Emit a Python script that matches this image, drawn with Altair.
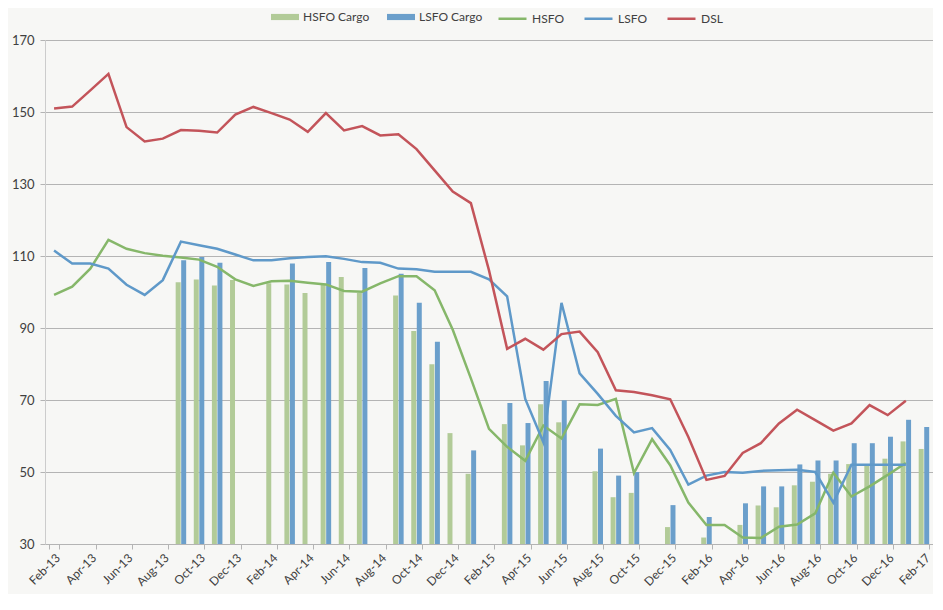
import altair as alt
import pandas as pd

months = ["Feb-13", "Mar-13", "Apr-13", "May-13", "Jun-13", "Jul-13", "Aug-13", "Sep-13",
          "Oct-13", "Nov-13", "Dec-13", "Jan-14", "Feb-14", "Mar-14", "Apr-14", "May-14",
          "Jun-14", "Jul-14", "Aug-14", "Sep-14", "Oct-14", "Nov-14", "Dec-14", "Jan-15",
          "Feb-15", "Mar-15", "Apr-15", "May-15", "Jun-15", "Jul-15", "Aug-15", "Sep-15",
          "Oct-15", "Nov-15", "Dec-15", "Jan-16", "Feb-16", "Mar-16", "Apr-16", "May-16",
          "Jun-16", "Jul-16", "Aug-16", "Sep-16", "Oct-16", "Nov-16", "Dec-16", "Jan-17",
          "Feb-17"]

hsfo = [99.2, 101.5, 106.5, 114.5, 112.0, 110.8, 110.1, 109.6, 109.0, 107.0, 103.5, 101.7,
        103.0, 103.1, 102.6, 102.1, 100.3, 100.1, 102.4, 104.4, 104.4, 100.5, 89.5, 76.0,
        62.0, 57.0, 53.1, 62.9, 59.3, 68.8, 68.6, 70.3, 49.7, 59.1, 51.9, 41.5,
        35.3, 35.3, 31.8, 31.7, 34.8, 35.4, 38.5, 49.8, 43.2, 46.0, 49.2, 52.5, None]

lsfo = [111.5, 107.9, 107.9, 106.5, 102.0, 99.2, 103.3, 114.0, 113.0, 112.0, 110.4, 108.8,
        108.8, 109.4, 109.7, 109.9, 109.2, 108.3, 108.1, 106.5, 106.3, 105.6, 105.6, 105.6,
        103.5, 98.8, 70.3, 58.3, 97.0, 77.4, 71.7, 65.6, 61.0, 62.2, 56.1, 46.5,
        49.0, 50.0, 49.8, 50.3, 50.5, 50.6, 50.0, 41.5, 52.0, 52.0, 52.0, 52.0, None]

dsl = [151.0, 151.5, 156.0, 160.6, 145.8, 141.8, 142.6, 145.0, 144.8, 144.3, 149.3, 151.4,
       149.7, 147.9, 144.5, 149.7, 144.9, 146.1, 143.5, 143.8, 139.7, 133.8, 127.9, 124.7,
       106.0, 84.2, 87.0, 84.0, 88.3, 89.0, 83.3, 72.7, 72.2, 71.3, 70.2, 59.7,
       47.8, 48.9, 55.3, 58.0, 63.5, 67.3, 64.4, 61.5, 63.5, 68.6, 65.8, 69.8, None]

hsfo_cargo = [None, None, None, None, None, None, None, 102.7, 103.5, 101.8, 103.3, None,
              102.4, 102.1, 99.7, 102.0, 104.2, 99.7, None, 99.0, 89.2, 79.9, 60.8, 49.5,
              None, 63.3, 57.4, 68.8, 63.8, None, 50.2, 43.0, 44.2, None, 34.7, None,
              31.8, None, 35.3, 40.7, 40.2, 46.3, 47.3, 49.5, 52.2, 51.8, 53.7, 58.5, 56.4]

lsfo_cargo = [None, None, None, None, None, None, None, 108.8, 109.7, 108.1, None, None,
              None, 107.9, None, 108.3, None, 106.7, None, 105.1, 97.0, 86.2, None, 56.0,
              None, 69.2, 63.6, 75.3, 69.9, None, 56.5, 49.0, 50.0, None, 40.8, None,
              37.5, None, 41.3, 46.0, 46.0, 52.1, 53.2, 53.2, 58.0, 58.0, 59.8, 64.5, 62.5]

bar_series = ["HSFO Cargo", "LSFO Cargo"]
bar_colors = ["#b2cb98", "#6b9fcb"]
line_series = ["HSFO", "LSFO", "DSL"]
line_colors = ["#86b76a", "#5f99c9", "#c3545a"]
y_ticks = [30, 50, 70, 90, 110, 130, 150, 170]

bar_rows = []
for name, vals in zip(bar_series, [hsfo_cargo, lsfo_cargo]):
    for i, v in enumerate(vals):
        if v is not None:
            bar_rows.append({"month": months[i], "idx": i, "series": name, "value": v})
bars_df = pd.DataFrame(bar_rows)

line_rows = []
for name, vals in zip(line_series, [hsfo, lsfo, dsl]):
    for i, v in enumerate(vals):
        if v is not None:
            line_rows.append({"month": months[i], "idx": i, "series": name, "value": v})
lines_df = pd.DataFrame(line_rows)

FONT = "Lato"
TXT = "#404040"
GRID = "#b4b4b4"

x_scale = alt.Scale(domain=months, paddingInner=0.42, paddingOuter=0.21)
x_axis = alt.Axis(values=months[::2], labelAngle=-45, tickBand="extent", title=None,
                  grid=False, domainColor=GRID, domainWidth=1.2, tickColor=GRID,
                  tickSize=5, labelFont=FONT, labelFontSize=12, labelColor=TXT,
                  labelPadding=3)
y_scale = alt.Scale(domain=[30, 170], zero=False, nice=False)
y_axis = alt.Axis(values=y_ticks, title=None, grid=True, gridColor=GRID, gridWidth=1.2,
                  domainColor="#cccccc", tickColor=GRID, tickSize=5, labelFont=FONT,
                  labelFontSize=13, labelColor=TXT, labelPadding=6)

bars = alt.Chart(bars_df).mark_bar().encode(
    x=alt.X("month:N", scale=x_scale, axis=x_axis, sort=months),
    xOffset=alt.XOffset("series:N", scale=alt.Scale(domain=bar_series, paddingInner=0.1)),
    y=alt.Y("value:Q", scale=y_scale, axis=y_axis),
    y2=alt.datum(30),
    fill=alt.Fill("series:N", scale=alt.Scale(domain=bar_series, range=bar_colors),
                  legend=alt.Legend(title=None, orient="none", legendX=226, legendY=-37,
                                    direction="horizontal",
                                    symbolType="M-1,-0.22L1,-0.22L1,0.22L-1,0.22Z",
                                    symbolSize=784, symbolStrokeWidth=0,
                                    labelFont=FONT, labelFontSize=12, labelColor=TXT,
                                    columnPadding=17, labelOffset=4)),
)

lines = alt.Chart(lines_df).mark_line(strokeWidth=2.5).encode(
    x=alt.X("month:N", scale=x_scale, sort=months),
    y=alt.Y("value:Q", scale=y_scale),
    order=alt.Order("idx:Q"),
    stroke=alt.Stroke("series:N", scale=alt.Scale(domain=line_series, range=line_colors),
                      legend=alt.Legend(title=None, orient="none", legendX=452, legendY=-37,
                                        direction="horizontal", symbolType="stroke",
                                        symbolSize=784, symbolStrokeWidth=2.5,
                                        labelFont=FONT, labelFontSize=12, labelColor=TXT,
                                        columnPadding=15, labelOffset=4)),
)

chart = alt.layer(bars, lines).properties(
    width=888, height=504,
    padding={"left": 37, "top": 32, "right": 0, "bottom": 50},
    autosize=alt.AutoSizeParams(type="none"),
    background="#f7f7f5",
).configure_view(stroke=None)

chart.save("out.html", embed_options={"renderer": "svg", "actions": False})
